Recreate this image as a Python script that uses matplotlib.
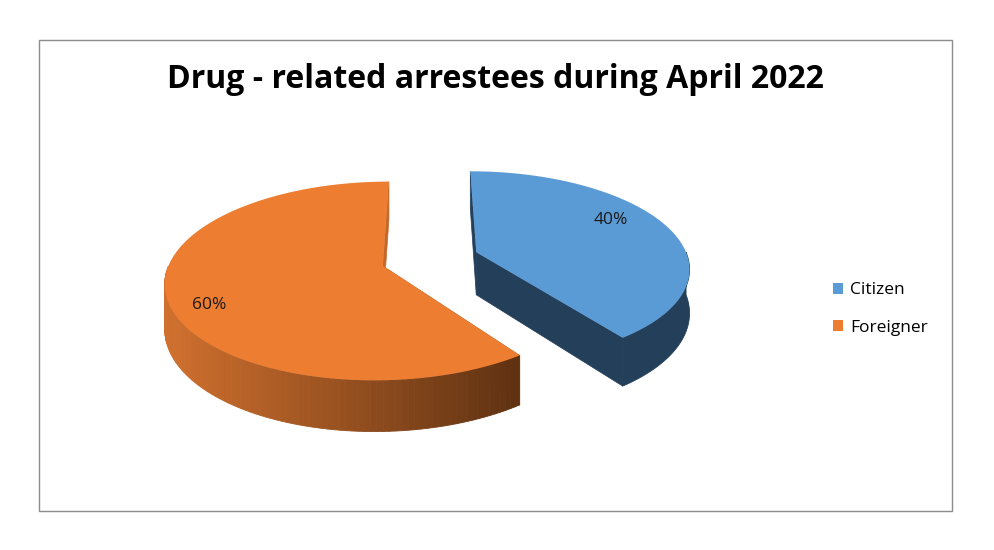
import numpy as np
import matplotlib
matplotlib.use("Agg")
import matplotlib.pyplot as plt
from matplotlib.patches import Polygon, Rectangle, Patch

title = "Drug - related arrestees during April 2022"
categories = ["Citizen", "Foreigner"]
shares = [40, 60]          # percent of arrestees
top_colors = ["#5B9BD5", "#ED7D31"]

# pixel-space layout of the fake 3D pie
CX, CY = 430.0, 259.0
RX, RY = 212.0, 95.0
PERSP = 0.15
DEPTH = 43.0
EXPLODE = 0.232


def proj(u, v, drop=0.0):
    k = 1.0 / (1.0 + PERSP * v)
    return CX + u * RX * k, CY - v * RY * k + drop * DEPTH * k


def rim(ox, oy, th, drop=0.0):
    return proj(ox + np.sin(th), oy + np.cos(th), drop)


def orange_wall(sx):
    t = np.clip((sx - 165) / (515 - 165), 0, 1)
    a = np.array([208, 112, 46]) / 255
    b = np.array([96, 50, 18]) / 255
    return tuple(a + (b - a) * t)


fig = plt.figure(figsize=(9.95, 5.5), dpi=100)
ax = fig.add_axes([0, 0, 1, 1])
ax.set_xlim(0, 995)
ax.set_ylim(550, 0)
ax.axis("off")

ax.add_patch(Rectangle((38.5, 39.5), 913, 471, fill=False, ec="#8C8C8C", lw=1.0))

fracs = np.array(shares, dtype=float) / sum(shares)
edges = np.concatenate([[0], np.cumsum(fracs)]) * 2 * np.pi
dark_radial = ["#243F5A", "#C56729"]

layers = {"radial": [], "outer": [], "top": []}
for i, (a0, a1) in enumerate(zip(edges[:-1], edges[1:])):
    mid = (a0 + a1) / 2
    ox, oy = EXPLODE * np.sin(mid), EXPLODE * np.cos(mid)
    apex_t = proj(ox, oy)
    apex_b = proj(ox, oy, 1)

    for a in (a0, a1):
        quad = [apex_t, rim(ox, oy, a), rim(ox, oy, a, 1), apex_b]
        layers["radial"].append(Polygon(quad, closed=True, fc=dark_radial[i],
                                        ec=dark_radial[i], lw=0.5))

    lo, hi = max(a0, np.pi / 2), min(a1, 3 * np.pi / 2)
    if hi > lo:
        ts = np.linspace(lo, hi, 90)
        if i == 0:
            band = [rim(ox, oy, t) for t in ts] + [rim(ox, oy, t, 1) for t in ts[::-1]]
            layers["outer"].append(Polygon(band, closed=True, fc="#243F5A",
                                           ec="#243F5A", lw=0.6))
        else:
            for t0, t1 in zip(ts[:-1], ts[1:]):
                p = [rim(ox, oy, t0), rim(ox, oy, t1), rim(ox, oy, t1, 1), rim(ox, oy, t0, 1)]
                c = orange_wall((p[0][0] + p[1][0]) / 2)
                layers["outer"].append(Polygon(p, closed=True, fc=c, ec=c, lw=0.6))

    ts = np.linspace(a0, a1, 200)
    top = [apex_t] + [rim(ox, oy, t) for t in ts]
    layers["top"].append(Polygon(top, closed=True, fc=top_colors[i], ec="none"))

for key in ("radial", "outer", "top"):
    for p in layers[key]:
        ax.add_patch(p)

# percentage labels: (radius, angle offset from slice middle)
label_pos = [(0.78, -0.18), (0.84, -0.15)]
for i, (a0, a1) in enumerate(zip(edges[:-1], edges[1:])):
    mid = (a0 + a1) / 2
    ox, oy = EXPLODE * np.sin(mid), EXPLODE * np.cos(mid)
    r, off = label_pos[i]
    lx, ly = proj(ox + r * np.sin(mid + off), oy + r * np.cos(mid + off))
    ax.text(lx, ly, f"{shares[i]}%", ha="center", va="center",
            fontsize=12.5, family="Open Sans", color="#1a1a1a")

ax.text(495, 79, title, ha="center", va="center", fontsize=23,
        fontweight="bold", family="Open Sans", color="black")

handles = [Patch(fc=c, ec="none") for c in top_colors]
ax.legend(handles, categories, loc="center left", bbox_to_anchor=(817 / 995, 1 - 309 / 550),
          frameon=False, handlelength=0.6, handleheight=0.6, handletextpad=0.4,
          labelspacing=1.25, prop={"family": "Open Sans", "size": 12.5})

fig.savefig("out.png", dpi=100)
